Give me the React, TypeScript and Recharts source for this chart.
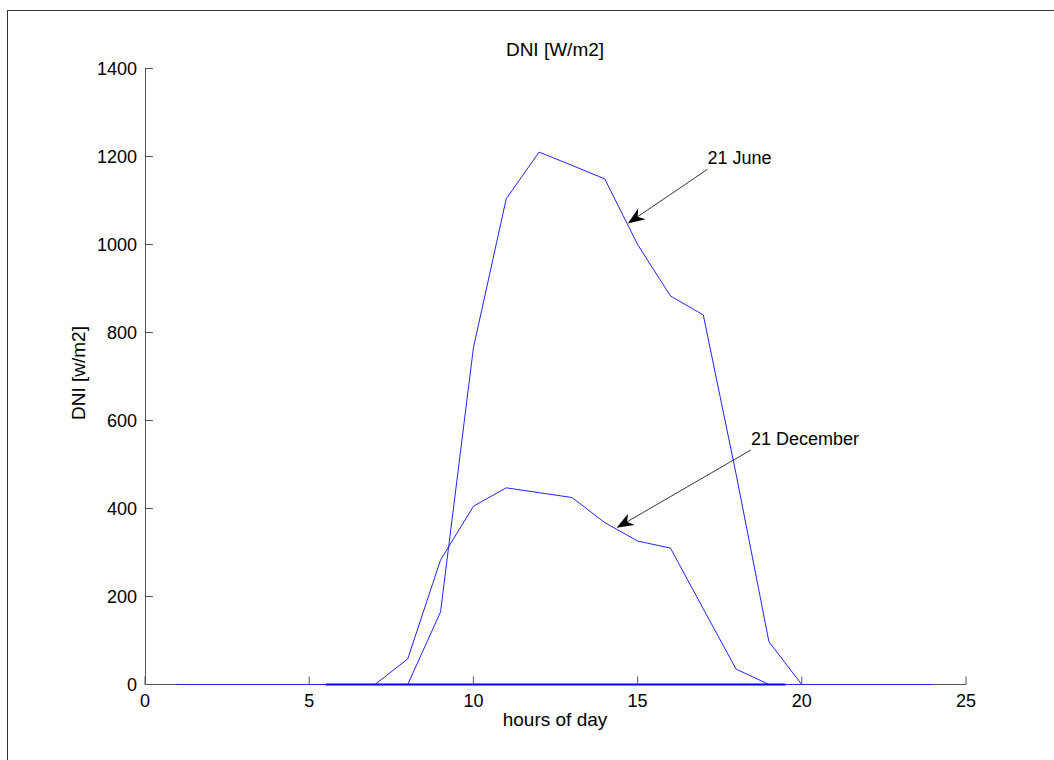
import { LineChart, Line, XAxis, YAxis, ReferenceLine } from "recharts"

const hours = [1, 2, 3, 4, 5, 6, 7, 8, 9, 10, 11, 12, 13, 14, 15, 16, 17, 18, 19, 20, 21, 22, 23, 24]
const june = [0, 0, 0, 0, 0, 0, 0, 0, 165, 765, 1104, 1210, 1180, 1149, 1000, 883, 840, 478, 97, 0, 0, 0, 0, 0]
const december = [0, 0, 0, 0, 0, 0, 0, 58, 283, 405, 447, 436, 425, 368, 326, 310, 172, 35, 0, 0, 0, 0, 0, 0]
const baseHours = [5.5, 19.5]
const baseValues = [0, 0]

const xTicks = [0, 5, 10, 15, 20, 25]
const yTicks = [0, 200, 400, 600, 800, 1000, 1200, 1400]

// arrow annotations in data units
const juneArrow = { label: "21 June", from: { x: 17.13, y: 1171 }, to: { x: 14.7, y: 1048 } }
const decArrow = { label: "21 December", from: { x: 18.45, y: 533 }, to: { x: 14.36, y: 356 } }

const FONT = "Arial, 'Liberation Sans', Helvetica, sans-serif"
const AXIS = "#555"

const juneData = hours.map((h, i) => ({ hour: h, value: june[i] }))
const decData = hours.map((h, i) => ({ hour: h, value: december[i] }))
const baseData = baseHours.map((h, i) => ({ hour: h, value: baseValues[i] }))

// ticks point into the plot, labels sit outside
function YTick(props: any) {
  const { x, y, payload } = props
  return (
    <g>
      <line x1={x + 8} y1={y} x2={x + 16} y2={y} stroke={AXIS} />
      <text x={x} y={y} dy="0.355em" textAnchor="end" fontSize={18} fontFamily={FONT} fill="#000">
        {payload.value}
      </text>
    </g>
  )
}

function XTick(props: any) {
  const { x, y, payload } = props
  return (
    <g>
      <line x1={x} y1={y - 10} x2={x} y2={y - 18} stroke={AXIS} />
      <text x={x} y={y} dy="0.71em" textAnchor="middle" fontSize={18} fontFamily={FONT} fill="#000">
        {payload.value}
      </text>
    </g>
  )
}

function arrowShape(label: string) {
  return (props: any) => {
    const { x1, y1, x2, y2 } = props
    const dx = x1 - x2
    const dy = y1 - y2
    const d = Math.hypot(dx, dy) || 1
    const ux = dx / d
    const uy = dy / d
    const px = -uy
    const py = ux
    const len = 17
    const half = 6.5
    const notch = 12
    const pts = [
      [x2, y2],
      [x2 + ux * len + px * half, y2 + uy * len + py * half],
      [x2 + ux * notch, y2 + uy * notch],
      [x2 + ux * len - px * half, y2 + uy * len - py * half],
    ]
      .map((p) => p.join(","))
      .join(" ")
    return (
      <g>
        <line x1={x1} y1={y1} x2={x2 + ux * notch} y2={y2 + uy * notch} stroke="#222" strokeWidth={0.9} />
        <polygon points={pts} fill="#000" />
        <text x={x1} y={y1 - 5} fontSize={18} fontFamily={FONT} fill="#000">
          {label}
        </text>
      </g>
    )
  }
}

export default function App() {
  return (
    <div style={{ position: "relative", width: 1054, height: 760, background: "#fff" }}>
      <style>{`body{margin:0}`}</style>
      <div
        style={{
          position: "absolute",
          left: 7,
          top: 10,
          right: 0,
          bottom: 0,
          borderTop: "1px solid #333",
          borderLeft: "1px solid #333",
        }}
      />
      {/* axis lines behind the series */}
      <svg width={1054} height={760} style={{ position: "absolute", left: 0, top: 0 }}>
        <line x1={145.5} y1={68} x2={145.5} y2={685} stroke={AXIS} />
        <line x1={145} y1={684.5} x2={966} y2={684.5} stroke={AXIS} />
      </svg>
      <LineChart
        width={1054}
        height={760}
        margin={{ top: 68.5, right: 88, bottom: 35.5, left: 0 }}
        style={{ position: "absolute", left: 0, top: 0 }}
      >
        <XAxis
          dataKey="hour"
          type="number"
          domain={[0, 25]}
          ticks={xTicks}
          allowDataOverflow
          height={40}
          axisLine={false}
          tickLine={false}
          tickSize={0}
          tickMargin={10}
          tick={<XTick />}
        />
        <YAxis
          type="number"
          domain={[0, 1400]}
          ticks={yTicks}
          width={145}
          axisLine={false}
          tickLine={false}
          tickSize={0}
          tickMargin={8}
          tick={<YTick />}
        />
        <Line data={juneData} dataKey="value" stroke="#2424ff" strokeWidth={1} dot={false} isAnimationActive={false} />
        <Line data={decData} dataKey="value" stroke="#2424ff" strokeWidth={1} dot={false} isAnimationActive={false} />
        <Line data={baseData} dataKey="value" stroke="#0000ff" strokeWidth={2} dot={false} isAnimationActive={false} />
        <ReferenceLine segment={[juneArrow.from, juneArrow.to]} shape={arrowShape(juneArrow.label)} />
        <ReferenceLine segment={[decArrow.from, decArrow.to]} shape={arrowShape(decArrow.label)} />
      </LineChart>
      <svg
        width={1054}
        height={760}
        style={{ position: "absolute", left: 0, top: 0, pointerEvents: "none" }}
      >
        <text x={555} y={56} textAnchor="middle" fontSize={19} fontFamily={FONT} fill="#000">
          DNI [W/m2]
        </text>
        <text x={555} y={726} textAnchor="middle" fontSize={19} fontFamily={FONT} fill="#000">
          hours of day
        </text>
        <text
          x={85}
          y={373}
          textAnchor="middle"
          fontSize={19}
          fontFamily={FONT}
          fill="#000"
          transform="rotate(-90 85 373)"
        >
          DNI [w/m2]
        </text>
      </svg>
    </div>
  )
}
